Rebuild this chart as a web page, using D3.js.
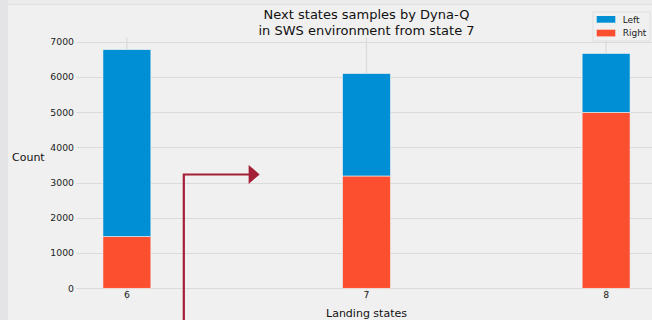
<!DOCTYPE html>
<html lang="en">
<head>
    <meta charset="UTF-8" />
    <title>Next states samples by Dyna-Q</title>
    <script src="https://d3js.org/d3.v7.min.js"></script>
    <style>
        body { margin: 0; background: #f0f0f0; font-family: "DejaVu Sans", sans-serif; }
        svg { display: block; }
    </style>
</head>
<body>
    <script>
        // data
        var states = [6, 7, 8];
        var leftCounts = [5310, 2910, 1670];
        var rightCounts = [1470, 3190, 5000];
        var yTicks = [0, 1000, 2000, 3000, 4000, 5000, 6000, 7000];
        var seriesNames = ["Left", "Right"];
        var seriesColors = ["#008fd5", "#fc4f30"];

        var w = 652;
        var h = 320;
        var barWidth = 0.2;

        var svg = d3.select("body")
            .append("svg")
            .attr("width", w)
            .attr("height", h);

        // figure background + cropped edges
        svg.append("rect").attr("width", w).attr("height", h).attr("fill", "#f0f0f0");
        svg.append("rect").attr("x", 0).attr("y", 0).attr("width", 8).attr("height", h).attr("fill", "#e4e4e6");
        svg.append("rect").attr("x", 8).attr("y", 0).attr("width", w - 8).attr("height", 4).attr("fill", "#ebebeb");
        svg.append("line").attr("x1", 8).attr("x2", w).attr("y1", 4.5).attr("y2", 4.5)
            .attr("stroke", "#e2e2e2").attr("stroke-width", 1);

        var totals = states.map(function(d, i) { return leftCounts[i] + rightCounts[i]; });
        var yMax = d3.max(totals) * 1.05;

        // x: matplotlib-like auto margins
        var xLo = d3.min(states) - barWidth / 2, xHi = d3.max(states) + barWidth / 2;
        var xPad = (xHi - xLo) * 0.05;
        var xScale = d3.scaleLinear()
            .domain([xLo - xPad, xHi + xPad])
            .range([76.6, 656.4]);

        var yScale = d3.scaleLinear()
            .domain([-d3.max(totals) * 0.05, yMax])
            .range([300.2, 37.7]);

        // grid
        svg.selectAll(".hgrid")
            .data(yTicks)
            .enter()
            .append("line")
            .attr("x1", xScale.range()[0])
            .attr("x2", xScale.range()[1])
            .attr("y1", function(d) { return Math.round(yScale(d)) + 0.5; })
            .attr("y2", function(d) { return Math.round(yScale(d)) + 0.5; })
            .attr("stroke", "#dadada")
            .attr("stroke-width", 1.2);

        svg.selectAll(".vgrid")
            .data(states)
            .enter()
            .append("line")
            .attr("x1", function(d) { return xScale(d); })
            .attr("x2", function(d) { return xScale(d); })
            .attr("y1", yScale.range()[1])
            .attr("y2", yScale.range()[0])
            .attr("stroke", "#dadada")
            .attr("stroke-width", 1.2);

        // bars: Right at the bottom, Left stacked on top
        var bw = xScale(barWidth) - xScale(0);

        svg.selectAll(".right")
            .data(rightCounts)
            .enter()
            .append("rect")
            .attr("x", function(d, i) { return xScale(states[i]) - bw / 2; })
            .attr("y", function(d) { return yScale(d); })
            .attr("width", bw)
            .attr("height", function(d) { return yScale(0) - yScale(d); })
            .attr("fill", seriesColors[1])
            .attr("stroke", "#f0f0f0")
            .attr("stroke-width", 0.6);

        svg.selectAll(".left")
            .data(leftCounts)
            .enter()
            .append("rect")
            .attr("x", function(d, i) { return xScale(states[i]) - bw / 2; })
            .attr("y", function(d, i) { return yScale(d + rightCounts[i]); })
            .attr("width", bw)
            .attr("height", function(d, i) { return yScale(rightCounts[i]) - yScale(d + rightCounts[i]); })
            .attr("fill", seriesColors[0])
            .attr("stroke", "#f0f0f0")
            .attr("stroke-width", 0.6);

        // tick labels
        svg.selectAll(".ytick")
            .data(yTicks)
            .enter()
            .append("text")
            .attr("x", 74)
            .attr("y", function(d) { return yScale(d); })
            .attr("dy", "0.35em")
            .attr("text-anchor", "end")
            .attr("font-size", "9.3px")
            .attr("fill", "#222")
            .text(function(d) { return d; });

        svg.selectAll(".xtick")
            .data(states)
            .enter()
            .append("text")
            .attr("x", function(d) { return xScale(d); })
            .attr("y", 298)
            .attr("text-anchor", "middle")
            .attr("font-size", "9.3px")
            .attr("fill", "#222")
            .text(function(d) { return d; });

        // titles and labels
        var cx = (xScale.range()[0] + xScale.range()[1]) / 2;
        svg.append("text")
            .attr("x", cx).attr("y", 19)
            .attr("text-anchor", "middle")
            .attr("font-size", "13px")
            .attr("fill", "#111")
            .text("Next states samples by Dyna-Q");
        svg.append("text")
            .attr("x", cx).attr("y", 34.5)
            .attr("text-anchor", "middle")
            .attr("font-size", "13px")
            .attr("fill", "#111")
            .text("in SWS environment from state 7");

        svg.append("text")
            .attr("x", 12).attr("y", 161)
            .attr("font-size", "11px")
            .attr("fill", "#111")
            .text("Count");

        svg.append("text")
            .attr("x", cx).attr("y", 317)
            .attr("text-anchor", "middle")
            .attr("font-size", "11px")
            .attr("fill", "#111")
            .text("Landing states");

        // legend
        var legend = svg.append("g").attr("transform", "translate(593,12)");
        legend.append("rect")
            .attr("width", 57).attr("height", 29)
            .attr("fill", "#f0f0f0")
            .attr("stroke", "#dcdcdc")
            .attr("stroke-width", 0.8);
        legend.selectAll(".lp")
            .data(seriesNames)
            .enter()
            .append("rect")
            .attr("x", 3.7)
            .attr("y", function(d, i) { return 4 + i * 13.7; })
            .attr("width", 18.6)
            .attr("height", 6.7)
            .attr("fill", function(d, i) { return seriesColors[i]; });
        legend.selectAll(".lt")
            .data(seriesNames)
            .enter()
            .append("text")
            .attr("x", 29.7)
            .attr("y", function(d, i) { return 7.4 + i * 13.7; })
            .attr("dy", "0.35em")
            .attr("font-size", "9px")
            .attr("fill", "#222")
            .text(function(d) { return d; });

        // annotation arrow (in data units)
        var arrowX = 6.2375, arrowY = 3233, arrowTip = 6.554;
        var ax = xScale(arrowX), ay = yScale(arrowY), tip = xScale(arrowTip);
        svg.append("path")
            .attr("d", "M" + ax + "," + (h + 2) + "V" + ay + "H" + (tip - 10))
            .attr("fill", "none")
            .attr("stroke", "#a51e37")
            .attr("stroke-width", 2.2);
        svg.append("path")
            .attr("d", "M" + (tip - 11) + "," + (ay - 9.5) + "L" + tip + "," + ay + "L" + (tip - 11) + "," + (ay + 9.5) + "Z")
            .attr("fill", "#a51e37");
    </script>
</body>
</html>
